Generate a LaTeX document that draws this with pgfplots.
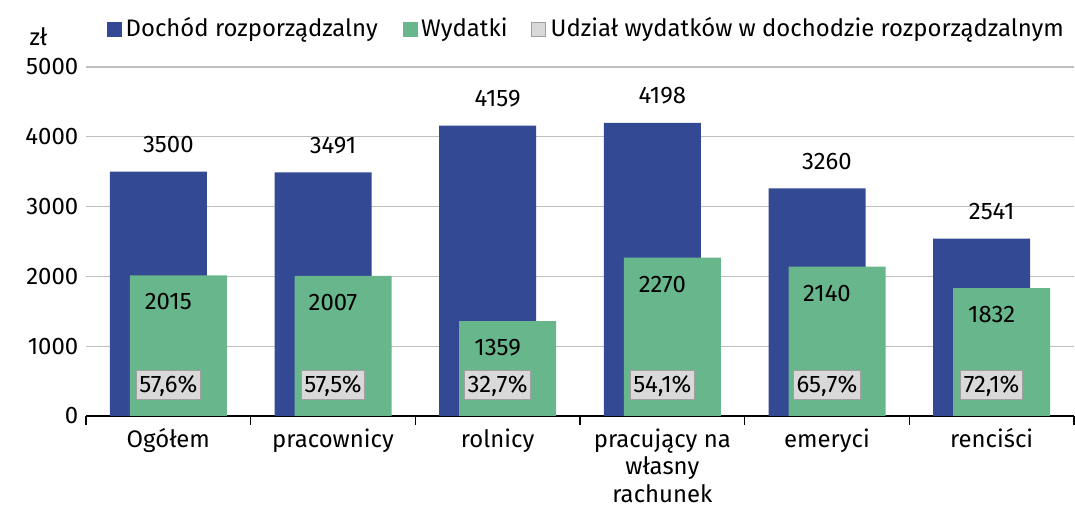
\documentclass[border=0pt]{standalone}
\usepackage{fontspec}
\setmainfont{Fira Sans}
\usepackage{pgfplots}
\pgfplotsset{compat=1.18}
\definecolor{cblue}{RGB}{51,73,147}
\definecolor{cgreen}{RGB}{103,182,140}
\definecolor{cbox}{RGB}{217,217,217}
\definecolor{cboxd}{RGB}{160,160,160}
\definecolor{cgrid}{RGB}{191,191,191}
\newcommand{\ff}{\fontsize{23.9}{27.5}\selectfont}
\begin{document}
\begin{tikzpicture}[font=\ff]
\begin{axis}[
  scale only axis, width=988pt, height=349pt,
  xmin=-0.5, xmax=5.5, ymin=0, ymax=5000,
  /pgf/number format/assume math mode=true,
  /pgf/number format/1000 sep={},
  scaled y ticks=false,
  axis x line*=bottom,
  axis y line*=left,
  y axis line style={draw=none},
  x axis line style={black, line width=1.5pt},
  ytick={0,1000,...,5000},
  ytick style={draw=none},
  ymajorgrids,
  y grid style={cgrid, line width=1.3pt},
  yticklabel style={font=\ff},
  xtick={0,...,5},
  xticklabels={Ogółem, pracownicy, rolnicy, {pracujący na\\własny\\rachunek}, emeryci, renciści},
  xticklabel style={align=center, anchor=north, yshift=-5pt, font=\ff},
  major x tick style={draw=none},
  minor xtick={-0.5,0.5,...,5.5},
  minor x tick style={black, line width=1.5pt},
  minor tick length=9pt,
  tick align=outside,
]
\addplot[ybar, bar width=97pt, bar shift=-10pt, fill=cblue, draw=none,
  nodes near coords, nodes near coords style={anchor=center, yshift=27pt, text=black, font=\ff}]
  coordinates {(0,3500) (1,3491) (2,4159) (3,4198) (4,3260) (5,2541)};
\addplot[ybar, bar width=97pt, bar shift=10pt, fill=cgreen, draw=none,
  nodes near coords, nodes near coords style={anchor=center, yshift=-26.5pt, text=black, font=\ff}]
  coordinates {(0,2015) (1,2007) (2,1359) (3,2270) (4,2140) (5,1832)};
\addplot[draw=none, mark=none, point meta=explicit symbolic,
  nodes near coords, nodes near coords style={anchor=center, yshift=30.5pt, fill=cbox, draw=cboxd, line width=1pt,
    inner xsep=3pt, inner ysep=0pt, minimum height=29pt, text=black, font=\ff}]
  coordinates {(0,0) [{57,6\%}] (1,0) [{57,5\%}] (2,0) [{32,7\%}] (3,0) [{54,1\%}] (4,0) [{65,7\%}] (5,0) [{72,1\%}]};
\coordinate (O) at (rel axis cs:0,0);
\coordinate (T) at (rel axis cs:0,1);
\end{axis}
% legend
\fill[cblue] ([xshift=21pt, yshift=29.5pt]T) rectangle ++(15pt,15pt);
\node[anchor=west, inner sep=0pt] at ([xshift=39.5pt, yshift=37pt]T) {Dochód rozporządzalny};
\fill[cgreen] ([xshift=317pt, yshift=29.5pt]T) rectangle ++(15pt,15pt);
\node[anchor=west, inner sep=0pt] at ([xshift=335pt, yshift=37pt]T) {Wydatki};
\draw[fill=cbox, draw=cboxd, line width=1pt] ([xshift=445.5pt, yshift=30pt]T) rectangle ++(14pt,14pt);
\node[anchor=west, inner sep=0pt] at ([xshift=464.5pt, yshift=37pt]T) {Udział wydatków w dochodzie rozporządzalnym};
\node at ([xshift=-47.5pt, yshift=30pt]T) {zł};
\pgfresetboundingbox
\path (O) ++(-86pt,-102pt) rectangle ++(1075pt,518pt);
\end{tikzpicture}
\end{document}
